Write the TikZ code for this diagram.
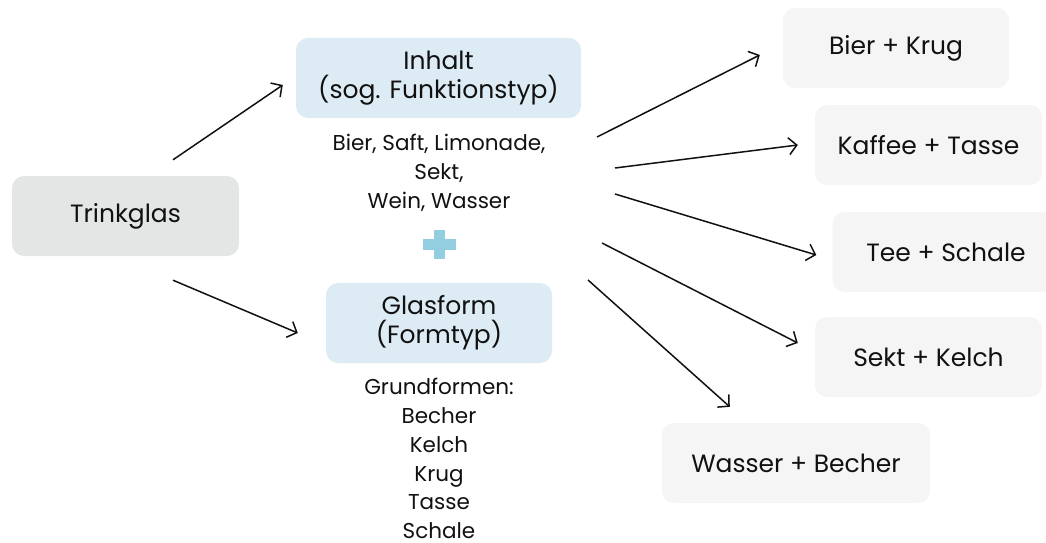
\documentclass[tikz,border=0pt]{standalone}
\usepackage{fontspec}
\setmainfont{Poppins}
\usetikzlibrary{arrows.meta,positioning,calc}
\definecolor{glasgrau}{HTML}{E4E5E5}
\definecolor{typblau}{HTML}{DCEBF4}
\definecolor{paargrau}{HTML}{F5F5F5}
\definecolor{plusblau}{HTML}{92CDE0}
\definecolor{schrift}{HTML}{111111}

\begin{document}
\begin{tikzpicture}[x=1pt, y=-1pt, line join=round,
    box/.style={rounded corners=12pt, minimum height=80pt, inner sep=0pt, align=center,
      text=schrift, font=\fontsize{25}{29}\selectfont},
    liste/.style={inner sep=0pt, align=center, text=schrift, font=\fontsize{21.5}{28.8}\selectfont},
    pfeil/.style={-{Straight Barb[length=8pt,width=17pt]}, line width=1.5pt, draw=schrift}]
    \useasboundingbox (0,0) rectangle (1046,543);

    % Ausgangsglas und die zwei Typen
    \node[box, fill=glasgrau, minimum width=227pt] (trink) at (125.5,216) {Trinkglas};
    \node[box, fill=typblau, minimum width=285pt] (inhalt) at (438.5,78) {Inhalt\\(sog. Funktionstyp)};
    \node[box, fill=typblau, minimum width=226pt] (form) at (439,323) {Glasform\\(Formtyp)};

    \node[liste] (getraenke) at (439,173) {Bier, Saft, Limonade,\\Sekt,\\Wein, Wasser};
    \node[liste] (grundformen) at (439,458.5) {Grundformen:\\Becher\\Kelch\\Krug\\Tasse\\Schale};

    % Pluszeichen
    \coordinate (plus) at (439,244);
    \fill[plusblau] ($(plus)+(-16.5,-5.5)$) rectangle ($(plus)+(16.5,5.5)$);
    \fill[plusblau] ($(plus)+(-5.5,-14.5)$) rectangle ($(plus)+(5.5,14.5)$);

    % Paare aus Inhalt + Form
    \node[box, fill=paargrau, minimum width=226pt] (bier) at (896,48) {Bier + Krug};
    \node[box, fill=paargrau, minimum width=227pt] (kaffee) at (928.5,145) {Kaffee + Tasse};
    \node[box, fill=paargrau, minimum width=227pt] (tee) at (946,252) {Tee + Schale};
    \node[box, fill=paargrau, minimum width=227pt] (sekt) at (928.5,357) {Sekt + Kelch};
    \node[box, fill=paargrau, minimum width=268pt] (wasser) at (796,463) {Wasser + Becher};

    % Pfeilenden
    \coordinate (t1) at ($(trink.north)+(47.5,-16)$);
    \coordinate (t2) at ($(trink.south)+(47.5,24)$);
    \coordinate (i1) at ($(inhalt.west)+(-13,7)$);
    \coordinate (f1) at ($(form.west)+(-28,10)$);
    \coordinate (g1) at (597,137);
    \coordinate (g2) at (615,168);
    \coordinate (g3) at (615,194);
    \coordinate (g4) at (602,243);
    \coordinate (g5) at (588,280);
    \coordinate (b1) at ($(bier.west)+(-23,7)$);
    \coordinate (k1) at ($(kaffee.west)+(-17,0)$);
    \coordinate (s1) at ($(tee.west)+(-16,3)$);
    \coordinate (e1) at ($(sekt.west)+(-17,-14)$);
    \coordinate (w1) at ($(wasser.north west)+(68,-16)$);

    \draw[pfeil] (t1) -- (i1);
    \draw[pfeil] (t2) -- (f1);
    \draw[pfeil] (g1) -- (b1);
    \draw[pfeil] (g2) -- (k1);
    \draw[pfeil] (g3) -- (s1);
    \draw[pfeil] (g4) -- (e1);
    \draw[pfeil] (g5) -- (w1);
\end{tikzpicture}
\end{document}
